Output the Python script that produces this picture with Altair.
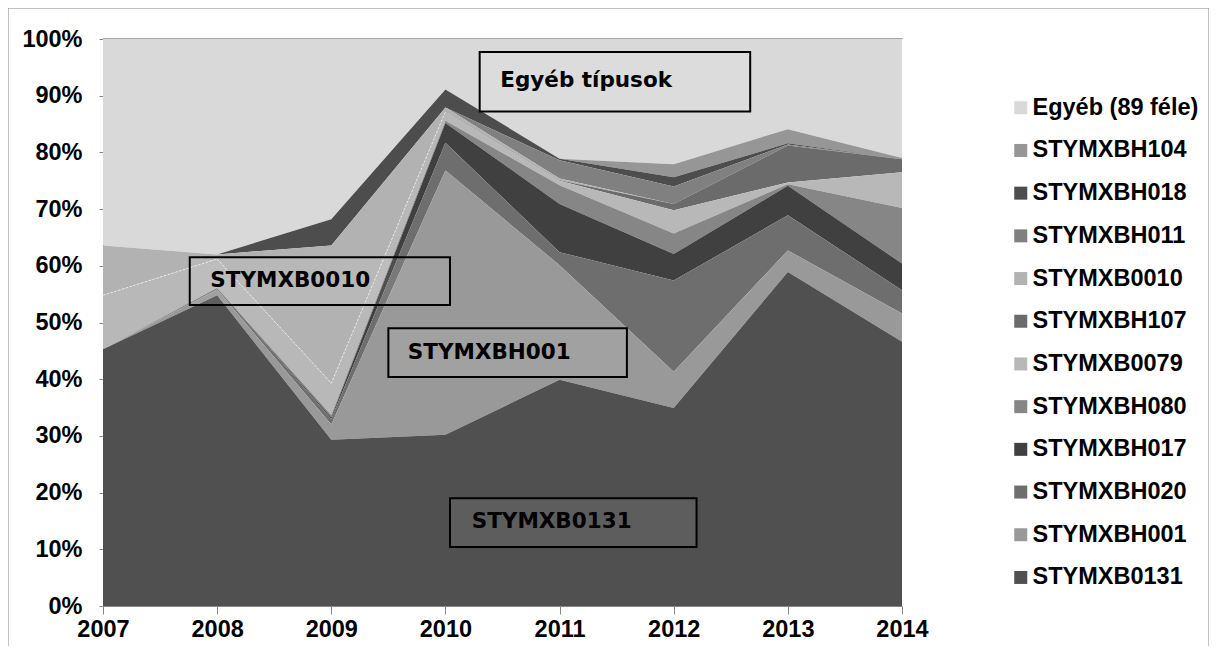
import altair as alt
import pandas as pd

years = [2007, 2008, 2009, 2010, 2011, 2012, 2013, 2014]

# legend order (top of legend first) == top of stack first
series_names = [
    "Egyéb (89 féle)", "STYMXBH104", "STYMXBH018", "STYMXBH011", "STYMXB0010",
    "STYMXBH107", "STYMXB0079", "STYMXBH080", "STYMXBH017", "STYMXBH020",
    "STYMXBH001", "STYMXB0131",
]
series_colors = [
    "#d9d9d9", "#969696", "#4d4d4d", "#808080", "#b2b2b2",
    "#6b6b6b", "#b8b8b8", "#868686", "#404040", "#6e6e6e",
    "#999999", "#505050",
]

# shares in percent, per year 2007..2014
egyeb   = [36.4, 38.0, 31.8, 8.9, 21.1, 22.1, 15.9, 21.0]
h104    = [0.0, 0.0, 0.0, 0.0, 0.0, 2.3, 2.5, 0.2]
h018    = [0.0, 0.0, 4.6, 3.2, 0.3, 1.6, 0.2, 0.0]
h011    = [0.0, 0.0, 0.0, 0.0, 3.2, 3.1, 0.2, 0.0]
b0010   = [8.8, 0.8, 24.3, 0.6, 0.3, 0.0, 0.0, 0.0]
h107    = [0.0, 0.0, 0.0, 0.1, 0.1, 1.1, 6.5, 2.3]
b0079   = [9.5, 5.1, 5.6, 1.6, 0.8, 4.1, 0.3, 6.3]
h080    = [0.0, 0.0, 0.4, 0.4, 3.3, 3.6, 0.3, 9.8]
h017    = [0.0, 0.0, 0.3, 3.5, 8.5, 4.7, 5.2, 4.7]
h020    = [0.0, 0.3, 1.0, 4.9, 2.3, 16.1, 6.2, 4.1]
h001    = [0.0, 1.0, 2.7, 46.6, 20.2, 6.4, 3.8, 5.0]
b0131   = [45.3, 54.8, 29.3, 30.2, 39.9, 34.9, 58.9, 46.6]

series_values = [egyeb, h104, h018, h011, b0010, h107, b0079, h080,
                 h017, h020, h001, b0131]

y_ticks = [0, 10, 20, 30, 40, 50, 60, 70, 80, 90, 100]

# annotation boxes (in data coordinates: year, percent)
ann_text = ["Egyéb típusok", "STYMXB0010", "STYMXBH001", "STYMXB0131"]
ann_x1 = [2010.30, 2007.76, 2009.50, 2010.04]
ann_x2 = [2012.67, 2010.04, 2011.59, 2012.20]
ann_y1 = [97.7, 61.5, 49.0, 19.0]
ann_y2 = [87.2, 53.1, 40.4, 10.4]
ann_tx = [2010.48, 2007.94, 2009.67, 2010.23]
ann_ty = [92.6, 57.3, 44.6, 14.8]

rows = []
n = len(series_names)
for i, (name, vals) in enumerate(zip(series_names, series_values)):
    for yr, v in zip(years, vals):
        rows.append({"year": yr, "series": name, "value": v,
                     "order": n - i})
df = pd.DataFrame(rows)

# thin dotted boundary between the two light series (STYMXB0079 / STYMXB0010)
lower_six = [b0131, h001, h020, h017, h080, b0079]
bound = pd.DataFrame({"year": years,
                      "top": [sum(s[k] for s in lower_six) for k in range(len(years))]})
bound = bound[bound["year"] <= 2010]

ann = pd.DataFrame({"text": ann_text, "x1": ann_x1, "x2": ann_x2,
                    "y1": ann_y1, "y2": ann_y2, "tx": ann_tx, "ty": ann_ty})

FONT = "Liberation Sans"
ANN_FONT = "DejaVu Sans"

x_scale = alt.Scale(domain=[2007, 2014], nice=False, zero=False)
y_scale = alt.Scale(domain=[0, 100], nice=False)

areas = alt.Chart(df).mark_area(interpolate="linear").encode(
    x=alt.X("year:Q", scale=x_scale, title=None,
            axis=alt.Axis(values=years, format="d", labelFont=FONT,
                          labelFontSize=23.5, labelFontWeight="bold",
                          labelColor="#000000", domainColor="#868686",
                          tickColor="#868686", tickSize=8, labelPadding=3,
                          grid=False, labelFlush=False)),
    y=alt.Y("value:Q", stack="zero", scale=y_scale, title=None,
            axis=alt.Axis(values=y_ticks, labelExpr="datum.value + '%'",
                          labelFont=FONT, labelFontSize=23.5,
                          labelFontWeight="bold", labelColor="#000000",
                          domainColor="#868686", tickColor="#868686",
                          tickSize=4, labelPadding=17, grid=False)),
    color=alt.Color("series:N",
                    scale=alt.Scale(domain=series_names, range=series_colors),
                    legend=alt.Legend(title=None, orient="none",
                                      legendX=906, legendY=57,
                                      symbolType="square", symbolSize=169,
                                      symbolStrokeWidth=0,
                                      labelFont=FONT, labelFontSize=23.5,
                                      labelFontWeight="bold",
                                      labelColor="#000000", labelLimit=400,
                                      rowPadding=17.7, labelOffset=0,
                                      padding=0)),
    order=alt.Order("order:Q", sort="ascending"),
)

dotted = alt.Chart(bound).mark_line(color="#ffffff", strokeWidth=1,
                                    strokeDash=[2, 2], opacity=0.7).encode(
    x=alt.X("year:Q", scale=x_scale),
    y=alt.Y("top:Q", scale=y_scale),
)

boxes = alt.Chart(ann).mark_rect(fill="#ffffff", fillOpacity=0.08,
                                 stroke="#000000", strokeWidth=2).encode(
    x=alt.X("x1:Q", scale=x_scale), x2="x2:Q",
    y=alt.Y("y1:Q", scale=y_scale), y2="y2:Q",
)

labels = alt.Chart(ann).mark_text(align="left", baseline="middle",
                                  font=ANN_FONT, fontSize=21.5,
                                  fontWeight="bold",
                                  color="#000000").encode(
    x=alt.X("tx:Q", scale=x_scale),
    y=alt.Y("ty:Q", scale=y_scale),
    text="text:N",
)

# plot-area top border and outer chart frame
plot_top = alt.Chart().mark_rule(color="#a6a6a6", strokeWidth=1).encode(
    x=alt.value(0), x2=alt.value(800), y=alt.value(-0.5))
frame_left = alt.Chart().mark_rule(color="#868686", strokeWidth=1).encode(
    x=alt.value(-95), y=alt.value(-31), y2=alt.value(700))
frame_right = alt.Chart().mark_rule(color="#868686", strokeWidth=1).encode(
    x=alt.value(1106), y=alt.value(-31), y2=alt.value(700))
frame_top = alt.Chart().mark_rule(color="#868686", strokeWidth=1).encode(
    x=alt.value(-95), x2=alt.value(1106), y=alt.value(-31))

chart = alt.layer(areas, dotted, boxes, labels, plot_top,
                  frame_left, frame_right, frame_top).properties(
    width=799, height=567,
    autosize=alt.AutoSizeParams(type="none"),
    padding={"left": 95, "top": 31, "right": 307, "bottom": 40},
    background="#ffffff",
).configure_view(stroke=None)

chart.save("out.html", embed_options={"renderer": "svg", "actions": False})
